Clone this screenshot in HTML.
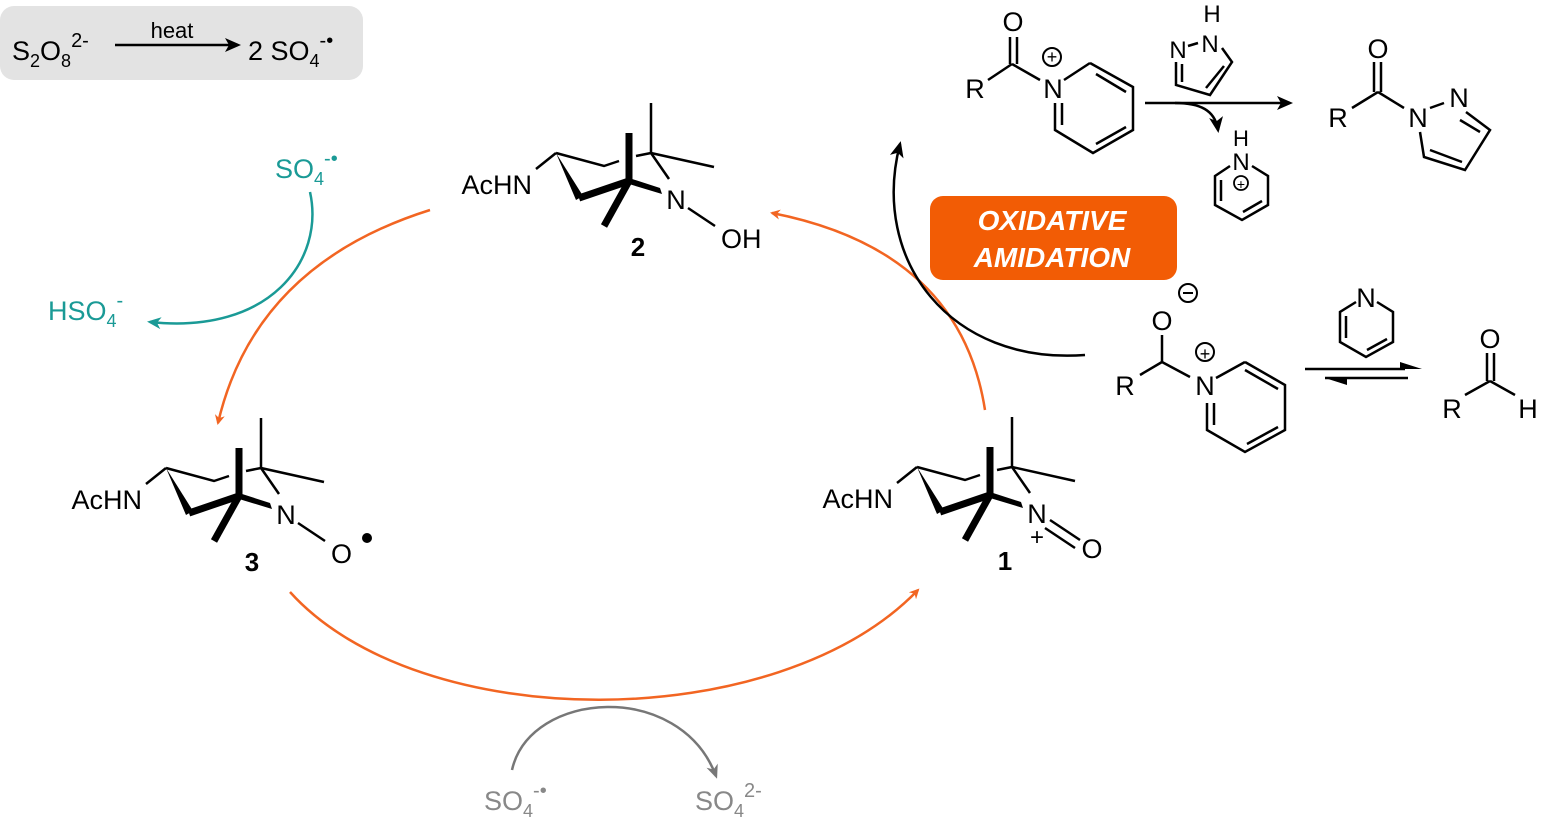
<!DOCTYPE html>
<html><head><meta charset="utf-8"><style>
html,body{margin:0;padding:0;background:#fff;}
svg{display:block;font-family:"Liberation Sans",Arial,sans-serif;}
</style></head><body>
<svg width="1541" height="826" viewBox="0 0 1541 826" xmlns="http://www.w3.org/2000/svg">
<defs>
<marker id="ao" markerWidth="10" markerHeight="10" refX="8" refY="5" orient="auto" markerUnits="userSpaceOnUse" viewBox="0 0 10 10"><path d="M0,0 L10,5 L0,10 L3,5 z" fill="#f26522"/></marker>
<marker id="at" markerWidth="14" markerHeight="14" refX="11" refY="7" orient="auto" markerUnits="userSpaceOnUse" viewBox="0 0 14 14"><path d="M0,1 L14,7 L0,13 L4,7 z" fill="#1a9a96"/></marker>
<marker id="ag" markerWidth="14" markerHeight="14" refX="11" refY="7" orient="auto" markerUnits="userSpaceOnUse" viewBox="0 0 14 14"><path d="M0,1 L14,7 L0,13 L4,7 z" fill="#777"/></marker>
<marker id="ab" markerWidth="16" markerHeight="16" refX="13" refY="8" orient="auto" markerUnits="userSpaceOnUse" viewBox="0 0 16 16"><path d="M0,1 L16,8 L0,15 L4,8 z" fill="#000"/></marker>
<g id="pip" stroke="#000" fill="none" stroke-linecap="butt">
 <line x1="0" y1="0" x2="-20" y2="16" stroke-width="2.5"/>
 <polygon points="0,0 20,47 27,43" fill="#000" stroke="none"/>
 <line x1="23" y1="45" x2="73" y2="28" stroke-width="7"/>
 <line x1="73" y1="31" x2="73" y2="-20" stroke-width="7"/>
 <polyline points="0,0 48,13 63,8" stroke-width="2.5"/>
 <line x1="80" y1="3" x2="95" y2="0" stroke-width="2.5"/>
 <line x1="95" y1="0" x2="95" y2="-50" stroke-width="2.5"/>
 <line x1="95" y1="0" x2="158" y2="14" stroke-width="2.5"/>
 <line x1="95" y1="0" x2="113" y2="26" stroke-width="2.5"/>
 <polygon points="73,25 73,31 106,41 104,35" fill="#000" stroke="none"/>
 <line x1="73" y1="28" x2="48" y2="73" stroke-width="7"/>
 <text x="-24" y="41" font-size="27" text-anchor="end" fill="#000" stroke="none">AcHN</text>
 <text x="120" y="56" font-size="27" text-anchor="middle" fill="#000" stroke="none">N</text>
</g>
</defs>

<rect x="0" y="6" width="363" height="74" rx="14" fill="#e3e3e3"/>
<text x="12" y="60" font-size="27">S<tspan font-size="18" dy="7">2</tspan><tspan dy="-7">O</tspan><tspan font-size="18" dy="7">8</tspan><tspan font-size="20" dy="-20">2-</tspan></text>
<line x1="115" y1="45" x2="238" y2="45" stroke="#000" stroke-width="2.5" marker-end="url(#ab)"/>
<text x="172" y="38" font-size="22" text-anchor="middle">heat</text>
<text x="248" y="60" font-size="27">2 SO<tspan font-size="18" dy="7">4</tspan><tspan font-size="20" dy="-20">-•</tspan></text>

<use href="#pip" x="556" y="153"/>
<line x1="688" y1="208" x2="715" y2="226" stroke="#000" stroke-width="2.5"/>
<text x="721" y="248" font-size="27">OH</text>
<text x="638" y="256" font-size="26" font-weight="bold" text-anchor="middle">2</text>

<use href="#pip" x="166" y="468"/>
<line x1="298" y1="523" x2="325" y2="541" stroke="#000" stroke-width="2.5"/>
<text x="331" y="563" font-size="27">O</text>
<circle cx="367" cy="538" r="5" fill="#000"/>
<text x="252" y="571" font-size="26" font-weight="bold" text-anchor="middle">3</text>

<use href="#pip" x="917" y="467"/>
<line x1="1050" y1="520" x2="1080" y2="540" stroke="#000" stroke-width="2.5"/>
<line x1="1045" y1="528" x2="1075" y2="548" stroke="#000" stroke-width="2.5"/>
<text x="1092" y="558" font-size="27" text-anchor="middle">O</text>
<text x="1037" y="545" font-size="24" text-anchor="middle">+</text>
<text x="1005" y="570" font-size="26" font-weight="bold" text-anchor="middle">1</text>

<path d="M430,210 Q255,265 218,423" fill="none" stroke="#f26522" stroke-width="2.5" marker-end="url(#ao)"/>
<path d="M985,410 Q960,250 772,213" fill="none" stroke="#f26522" stroke-width="2.5" marker-end="url(#ao)"/>
<path d="M290,592 C420,736 777,736 918,590" fill="none" stroke="#f26522" stroke-width="2.5" marker-end="url(#ao)"/>

<path d="M310,192 C325,260 270,335 150,322" fill="none" stroke="#1a9a96" stroke-width="2.5" marker-end="url(#at)"/>
<text x="275" y="178" font-size="27" fill="#1a9a96">SO<tspan font-size="18" dy="7">4</tspan><tspan font-size="20" dy="-20">-•</tspan></text>
<text x="48" y="320" font-size="27" fill="#1a9a96">HSO<tspan font-size="18" dy="7">4</tspan><tspan font-size="20" dy="-20">-</tspan></text>

<path d="M512,770 C530,690 680,680 716,776" fill="none" stroke="#777" stroke-width="2.5" marker-end="url(#ag)"/>
<text x="484" y="810" font-size="27" fill="#888">SO<tspan font-size="18" dy="7">4</tspan><tspan font-size="20" dy="-20">-•</tspan></text>
<text x="695" y="810" font-size="27" fill="#888">SO<tspan font-size="18" dy="7">4</tspan><tspan font-size="20" dy="-20">2-</tspan></text>

<path d="M1085,355 C950,365 870,260 900,144" fill="none" stroke="#000" stroke-width="2.5" marker-end="url(#ab)"/>

<rect x="930" y="196" width="247" height="84" rx="13" fill="#f25c05"/>
<text x="1052" y="230" font-size="28" font-weight="bold" font-style="italic" fill="#fff" text-anchor="middle">OXIDATIVE</text>
<text x="1052" y="267" font-size="28" font-weight="bold" font-style="italic" fill="#fff" text-anchor="middle">AMIDATION</text>

<g stroke="#000" stroke-width="2.5" fill="none">
 <line x1="988" y1="80" x2="1012" y2="64"/>
 <line x1="1012" y1="64" x2="1040" y2="80"/>
 <line x1="1010" y1="64" x2="1010" y2="37"/>
 <line x1="1017" y1="64" x2="1017" y2="37"/>
 <line x1="1064" y1="80" x2="1090" y2="63"/>
 <polyline points="1090,63 1133,87 1133,130 1093,153 1055,130 1055,103"/>
 <line x1="1126" y1="92" x2="1096" y2="74"/>
 <line x1="1126" y1="127" x2="1096" y2="144"/>
 <line x1="1062" y1="125" x2="1062" y2="103"/>
 <circle cx="1052" cy="57" r="9" stroke-width="2"/>
 <line x1="1145" y1="103" x2="1290" y2="103" marker-end="url(#ab)"/>
 <path d="M1175,103 C1200,103 1215,110 1218,130" marker-end="url(#ab)"/>
 <line x1="1188" y1="46" x2="1198" y2="43"/>
 <polyline points="1222,48 1232,62 1210,95 1176,85 1176,62"/>
 <line x1="1224" y1="66" x2="1206" y2="88"/>
 <line x1="1182" y1="82" x2="1182" y2="64"/>
 <polyline points="1230,166 1215,176 1215,205 1242,220 1268,205 1268,176 1252,166"/>
 <line x1="1221" y1="180" x2="1221" y2="201"/>
 <line x1="1262" y1="201" x2="1243" y2="212"/>
 <circle cx="1241" cy="183" r="7" stroke-width="1.8"/>
 <line x1="1352" y1="108" x2="1378" y2="92"/>
 <line x1="1378" y1="92" x2="1404" y2="108"/>
 <line x1="1381" y1="92" x2="1381" y2="62"/>
 <line x1="1430" y1="108" x2="1444" y2="103"/>
 <polyline points="1466,112 1490,130 1465,170 1424,157 1420,132"/>
 <line x1="1460" y1="120" x2="1480" y2="132"/>
 <line x1="1430" y1="150" x2="1462" y2="162"/>
 <line x1="1140" y1="375" x2="1162" y2="362"/>
 <line x1="1162" y1="362" x2="1190" y2="377"/>
 <line x1="1162" y1="362" x2="1162" y2="335"/>
 <circle cx="1188" cy="293" r="9" stroke-width="2"/>
 <line x1="1183" y1="293" x2="1193" y2="293" stroke-width="2"/>
 <circle cx="1205" cy="352" r="9" stroke-width="2"/>
 <line x1="1216" y1="378" x2="1245" y2="362"/>
 <polyline points="1245,362 1285,385 1285,430 1245,452 1207,430 1207,403"/>
 <line x1="1245" y1="370" x2="1278" y2="389"/>
 <line x1="1278" y1="427" x2="1247" y2="444"/>
 <line x1="1214" y1="425" x2="1214" y2="403"/>
 <line x1="1305" y1="369" x2="1405" y2="369"/>
 <line x1="1325" y1="378" x2="1408" y2="378"/>
 <polyline points="1356,302 1340,312 1340,342 1366,357 1393,342 1393,312 1377,302"/>
 <line x1="1346" y1="316" x2="1346" y2="338"/>
 <line x1="1387" y1="339" x2="1367" y2="350"/>
 <line x1="1465" y1="395" x2="1490" y2="381"/>
 <line x1="1490" y1="381" x2="1515" y2="395"/>
 <line x1="1487" y1="381" x2="1487" y2="353"/>
 <line x1="1494" y1="381" x2="1494" y2="353"/>
</g>
<line x1="1374" y1="92" x2="1374" y2="62" stroke="#000" stroke-width="2.5"/>
<polygon points="1400,362 1422,369 1400,369" fill="#000"/>
<polygon points="1325,378 1347,378 1347,385" fill="#000"/>
<g font-size="27" text-anchor="middle">
 <text x="1013" y="31">O</text>
 <text x="975" y="98">R</text>
 <text x="1053" y="98">N</text>
 <text x="1052" y="63" font-size="18">+</text>
 <text x="1212" y="22" font-size="24">H</text>
 <text x="1210" y="52" font-size="24">N</text>
 <text x="1178" y="58" font-size="24">N</text>
 <text x="1241" y="146" font-size="22">H</text>
 <text x="1241" y="170" font-size="24">N</text>
 <text x="1241" y="189" font-size="14">+</text>
 <text x="1378" y="58">O</text>
 <text x="1338" y="127">R</text>
 <text x="1418" y="127">N</text>
 <text x="1459" y="107">N</text>
 <text x="1162" y="330">O</text>
 <text x="1125" y="395">R</text>
 <text x="1205" y="395">N</text>
 <text x="1205" y="360" font-size="18">+</text>
 <text x="1366" y="307">N</text>
 <text x="1490" y="348">O</text>
 <text x="1452" y="418">R</text>
 <text x="1528" y="418">H</text>
</g>
</svg>
</body></html>
